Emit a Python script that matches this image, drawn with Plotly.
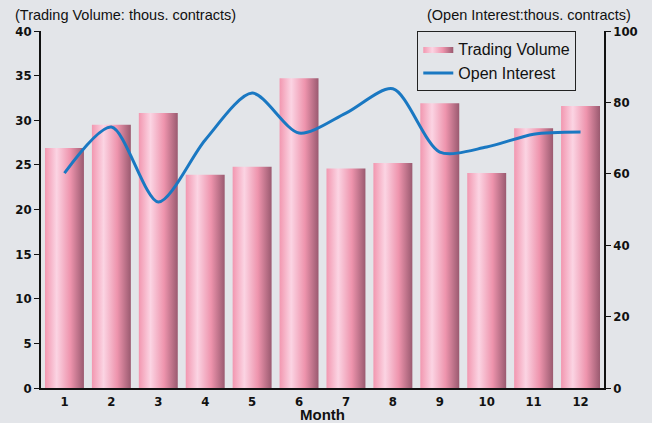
import plotly.graph_objects as go

months = [1, 2, 3, 4, 5, 6, 7, 8, 9, 10, 11, 12]
month_labels = ["1", "2", "3", "4", "5", "6", "7", "8", "9", "10", "11", "12"]
trading_volume = [26.9, 29.5, 30.8, 23.9, 24.8, 34.7, 24.6, 25.2, 31.9, 24.1, 29.1, 31.6]
open_interest = [60.2, 73.1, 52.1, 69.5, 82.6, 71.4, 77.0, 83.8, 66.1, 67.5, 71.1, 71.7]

BAR_W = 0.83
grad = [[0, "#f297b0"], [0.3, "#fbd4e3"], [0.65, "#ee94ad"], [1, "#9a5a70"]]
FONT_NUM = "DejaVu Sans Condensed, Liberation Sans Narrow, Arial Narrow, sans-serif"
FONT_TXT = "Liberation Sans, Arial, sans-serif"

fig = go.Figure()
for i, (m, v) in enumerate(zip(months, trading_volume)):
    x0, x1 = m - BAR_W / 2, m + BAR_W / 2
    fig.add_trace(go.Scatter(
        x=[x0, x1, x1, x0, x0], y=[0, 0, v, v, 0],
        mode="lines", line=dict(width=0, color="rgba(0,0,0,0)"),
        fill="toself", fillcolor="#f4a6bc",
        fillgradient=dict(type="horizontal", colorscale=grad),
        name="Trading Volume", legendgroup="tv", showlegend=(i == 0),
        hoverinfo="skip", yaxis="y",
    ))

fig.add_trace(go.Scatter(
    x=months, y=open_interest, mode="lines",
    line=dict(color="#1a78c2", width=3, shape="spline", smoothing=0.8),
    name="Open Interest", yaxis="y2",
))

fig.update_layout(
    width=652, height=423,
    margin=dict(l=41, r=48, t=31, b=35, autoexpand=False),
    paper_bgcolor="#e3e5e9", plot_bgcolor="rgba(0,0,0,0)",
    font=dict(family=FONT_TXT, color="#111"),
    showlegend=True,
    legend=dict(
        x=0.668, y=1.0, xanchor="left", yanchor="top",
        bgcolor="rgba(0,0,0,0)", bordercolor="#222", borderwidth=1.2,
        font=dict(size=16, family=FONT_TXT, color="#111"),
        itemwidth=30, tracegroupgap=0,
    ),
    xaxis=dict(
        range=[0.5, 12.5], tickmode="array", tickvals=months, ticktext=month_labels,
        automargin=False,
        showgrid=False, zeroline=False, showline=True, linecolor="#111", linewidth=2,
        ticks="", tickfont=dict(size=13, family=FONT_NUM, color="#111", weight="bold"),
    ),
    yaxis=dict(
        range=[0, 40], tickmode="array", tickvals=[0, 5, 10, 15, 20, 25, 30, 35, 40],
        automargin=False,
        showgrid=False, zeroline=False, showline=True, linecolor="#111", linewidth=1.5,
        ticks="outside", ticklen=5, tickcolor="#111",
        tickfont=dict(size=13, family=FONT_NUM, color="#111", weight="bold"),
    ),
    yaxis2=dict(
        range=[0, 100], tickmode="array", tickvals=[0, 20, 40, 60, 80, 100],
        overlaying="y", side="right", automargin=False,
        showgrid=False, zeroline=False, showline=True, linecolor="#111", linewidth=1.5,
        ticks="outside", ticklen=5, tickcolor="#111",
        tickfont=dict(size=13, family=FONT_NUM, color="#111", weight="bold"),
    ),
    annotations=[
        dict(text="(Trading Volume: thous. contracts)", xref="paper", yref="paper",
             x=-0.05, y=1.0, yshift=16, xanchor="left", yanchor="middle", showarrow=False,
             font=dict(size=14.5, family=FONT_TXT, color="#111")),
        dict(text="(Open Interest:thous. contracts)", xref="paper", yref="paper",
             x=1.052, y=1.0, yshift=16, xanchor="right", yanchor="middle", showarrow=False,
             font=dict(size=14.5, family=FONT_TXT, color="#111")),
        dict(text="Month", xref="paper", yref="paper",
             x=0.5, y=0.0, yshift=-26, xanchor="center", yanchor="middle", showarrow=False,
             font=dict(size=15, family=FONT_TXT, color="#111", weight="bold")),
    ],
)

fig.write_html("out.html", config={"displayModeBar": False})
with open("out.html", encoding="utf-8") as f:
    html = f.read()
html = html.replace("<head>", "<head><style>html,body{margin:0;padding:0;overflow:hidden;}</style>", 1)
with open("out.html", "w", encoding="utf-8") as f:
    f.write(html)
